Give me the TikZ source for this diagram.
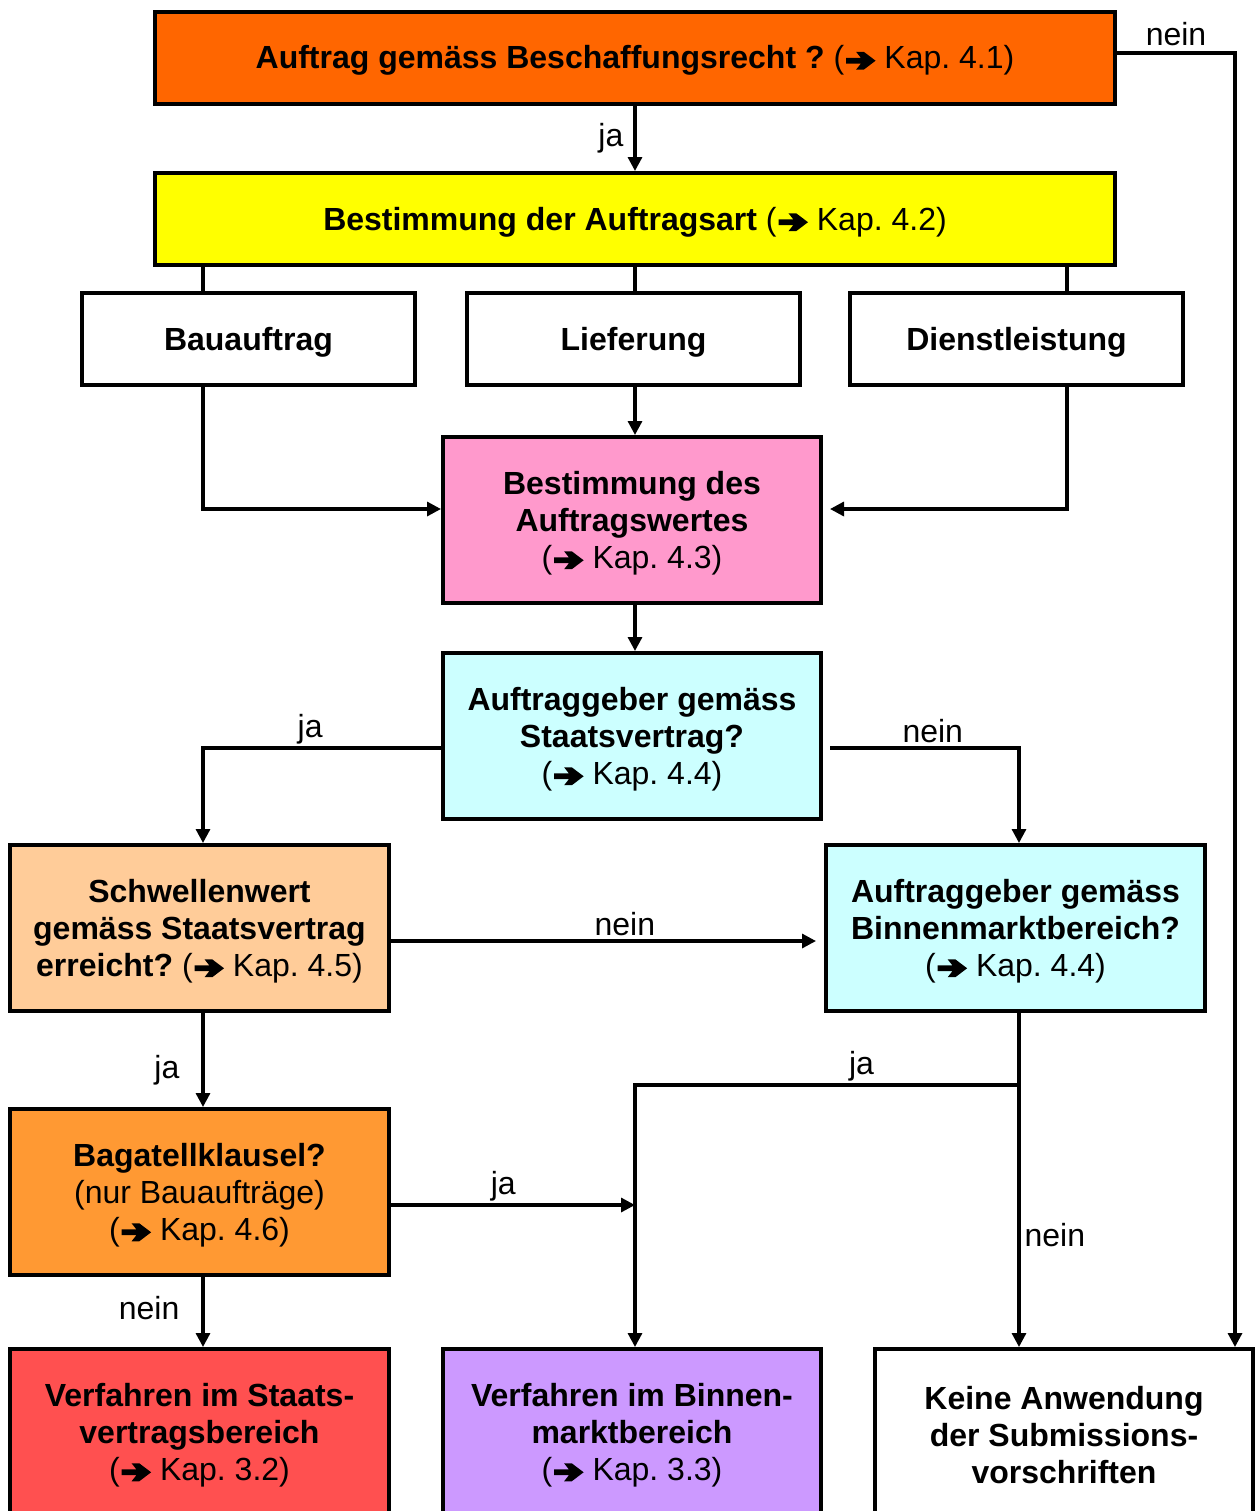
\documentclass[tikz,border=0pt]{standalone}
\usepackage{fontspec}
\setmainfont{Liberation Sans}
\usetikzlibrary{arrows.meta}
\frenchspacing
\newcommand{\karr}{\hspace{0.06em}\tikz[baseline=0pt,x=1em,y=1em]\fill[black] (0,0.16)--(0.46,0.16)--(0.31,-0.03)--(0.55,-0.03)--(0.92,0.25)--(0.55,0.53)--(0.31,0.53)--(0.46,0.34)--(0,0.34)--cycle;}
\definecolor{corange}{HTML}{FF6600}
\definecolor{cyellow}{HTML}{FFFF00}
\definecolor{cpink}{HTML}{FF99CC}
\definecolor{ccyan}{HTML}{CCFFFF}
\definecolor{cpeach}{HTML}{FFCC99}
\definecolor{corange2}{HTML}{FF9933}
\definecolor{cred}{HTML}{FF5050}
\definecolor{cpurple}{HTML}{CC99FF}
\begin{document}
\begin{tikzpicture}[x=0.5pt,y=-0.5pt,
  font=\fontsize{16}{18.5}\selectfont\frenchspacing,
  box/.style={draw=black,line width=2pt,rectangle,inner sep=0pt},
  txtl/.style={align=center,inner sep=0pt,yshift=-1.5pt,font=\fontsize{16}{18.5}\selectfont\frenchspacing},
  tx/.style={label={[txtl]center:#1}},
  wide/.style={minimum width=480pt,minimum height=46pt},
  sub/.style={minimum width=166.5pt,minimum height=46pt},
  big/.style={minimum width=189.5pt,minimum height=83pt},
  conn/.style={line width=1.6pt},
  arr/.style={conn,-{Triangle[length=7pt,width=7pt]}},
  lbl/.style={inner sep=1pt,font=\fontsize{16}{18.5}\selectfont}]
\useasboundingbox (0,0) rectangle (1256,1511);
\clip (0,0) rectangle (1256,1511);
% nodes
\node[box,wide,fill=corange,tx={{\textbf{Auftrag gemäss Beschaffungsrecht ?} (\karr{} Kap. 4.1)}}] (b1) at (635,57.5) {};
\node[box,wide,fill=cyellow,tx={{\textbf{Bestimmung der Auftragsart} (\karr{} Kap. 4.2)}}] (b2) at (635,219) {};
\node[box,sub,fill=white,tx={{\textbf{Bauauftrag}}}] (bau) at (248.5,339) {};
\node[box,sub,fill=white,tx={{\textbf{Lieferung}}}] (lief) at (633.5,339) {};
\node[box,sub,fill=white,tx={{\textbf{Dienstleistung}}}] (dienst) at (1016.5,339) {};
\node[box,big,minimum width=189pt,fill=cpink,tx={{\textbf{Bestimmung des}\\\textbf{Auftragswertes}\\(\karr{} Kap. 4.3)}}] (wert) at (632,520) {};
\node[box,big,minimum width=189pt,fill=ccyan,tx={{\textbf{Auftraggeber gemäss}\\\textbf{Staatsvertrag?}\\(\karr{} Kap. 4.4)}}] (sv) at (632,736) {};
\node[box,big,fill=cpeach,tx={{\textbf{Schwellenwert}\\\textbf{gemäss Staatsvertrag}\\\textbf{erreicht?} (\karr{} Kap. 4.5)}}] (schw) at (199.5,928) {};
\node[box,big,fill=ccyan,tx={{\textbf{Auftraggeber gemäss}\\\textbf{Binnenmarktbereich?}\\(\karr{} Kap. 4.4)}}] (bm) at (1015.5,928) {};
\node[box,big,fill=corange2,tx={{\textbf{Bagatellklausel?}\\(nur Bauaufträge)\\(\karr{} Kap. 4.6)}}] (bag) at (199.5,1192) {};
\node[box,big,fill=cred,tx={{\textbf{Verfahren im Staats-}\\\textbf{vertragsbereich}\\(\karr{} Kap. 3.2)}}] (vs) at (199.5,1432) {};
\node[box,big,minimum width=189pt,fill=cpurple,tx={{\textbf{Verfahren im Binnen-}\\\textbf{marktbereich}\\(\karr{} Kap. 3.3)}}] (vb) at (632,1432) {};
\node[box,big,minimum width=189pt,fill=white,tx={{\textbf{Keine Anwendung}\\\textbf{der Submissions-}\\\textbf{vorschriften}}}] (kw) at (1064,1432) {};
% helper coordinates
\coordinate (x203) at (203,0);
\coordinate (x635) at (635,0);
\coordinate (x1019) at (1019,0);
\coordinate (x1067) at (1067,0);
\coordinate (x1235) at (1235,0);
\coordinate (nr) at (1235,53);
\coordinate (y509) at (0,509);
\coordinate (y748) at (0,748);
\coordinate (y941) at (0,941);
\coordinate (y1085) at (0,1085);
\coordinate (y1205) at (0,1205);
% connectors
\draw[arr] (b1.south -| x635) -- node[lbl,left,xshift=-4pt]{ja} (b2.north -| x635);
\draw[arr] (b1.east |- nr) -- node[lbl,above,yshift=2pt]{nein} (nr) -- (kw.north -| x1235);
\draw[conn] (b2.south -| x203) -- (bau.north -| x203);
\draw[conn] (b2.south -| x635) -- (lief.north -| x635);
\draw[conn] (b2.south -| x1067) -- (dienst.north -| x1067);
\draw[arr] (bau.south -| x203) -- (x203 |- y509) -- (wert.west |- y509);
\draw[arr] (lief.south -| x635) -- (wert.north -| x635);
\draw[arr,shorten >=3.5pt] (dienst.south -| x1067) -- (x1067 |- y509) -- (wert.east |- y509);
\draw[arr] (wert.south -| x635) -- (sv.north -| x635);
\draw[arr] (sv.west |- y748) -- node[lbl,above,pos=0.55]{ja} (x203 |- y748) -- (schw.north -| x203);
\draw[arr,shorten <=3.5pt] (sv.east |- y748) -- node[lbl,above,pos=0.56,yshift=1pt]{nein} (x1019 |- y748) -- (bm.north -| x1019);
\draw[arr,shorten >=4pt] (schw.east |- y941) -- node[lbl,above,pos=0.54,yshift=1pt]{nein} (bm.west |- y941);
\draw[arr] (schw.south -| x203) -- node[lbl,left,xshift=-10pt,yshift=-5pt]{ja} (bag.north -| x203);
\draw[arr] (bag.east |- y1205) -- node[lbl,above,pos=0.46]{ja} (x635 |- y1205);
\draw[arr] (bm.south -| x1019) -- node[lbl,right,pos=0.67,xshift=1pt,yshift=1pt]{nein} (kw.north -| x1019);
\draw[arr] (x1019 |- y1085) -- node[lbl,above,pos=0.41]{ja} (x635 |- y1085) -- (vb.north -| x635);
\draw[arr] (bag.south -| x203) -- node[lbl,left,xshift=-10pt,pos=0.45]{nein} (vs.north -| x203);
\end{tikzpicture}
\end{document}
